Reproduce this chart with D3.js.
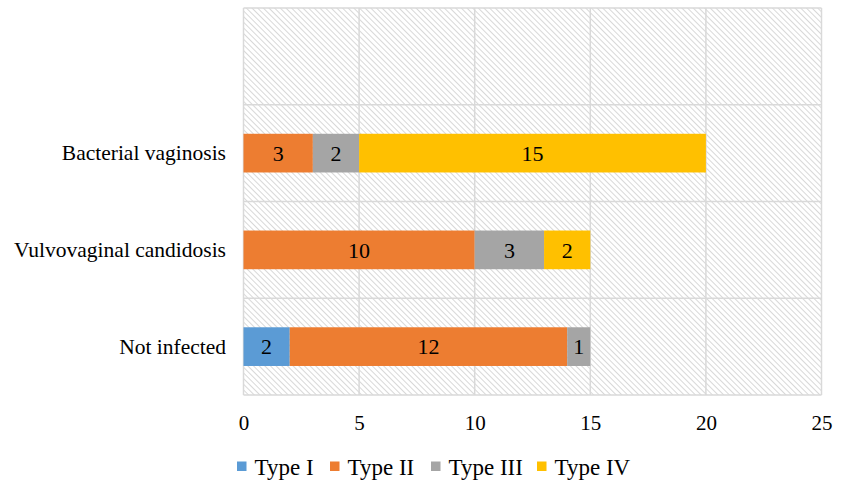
<!DOCTYPE html>
<html><head><meta charset="utf-8">
<script src="https://cdn.jsdelivr.net/npm/d3@7"></script>
<style>body{margin:0;background:#fff}svg{display:block}</style>
</head><body>
<svg id="c" width="843" height="482"></svg>
<script>
const categories = ["", "Bacterial vaginosis", "Vulvovaginal candidosis", "Not infected"];
const seriesNames = ["Type I", "Type II", "Type III", "Type IV"];
const seriesColors = ["#5B9BD5", "#ED7D31", "#A5A5A5", "#FFC000"];
const typeI   = [0, 0, 0, 2];
const typeII  = [0, 3, 10, 12];
const typeIII = [0, 2, 3, 1];
const typeIV  = [0, 15, 2, 0];
const xTicks = [0, 5, 10, 15, 20, 25];

const svg = d3.select("#c");
const font = "'Liberation Serif','Times New Roman',serif";
const M = {l: 243.5, t: 8, r: 821.5, b: 395};
const x = d3.scaleLinear().domain([0, 25]).range([M.l, M.r]);
const y = d3.scaleBand().domain(categories).range([M.t, M.b]).paddingInner(0).paddingOuter(0);

const defs = svg.append("defs");
const pat = defs.append("pattern").attr("id", "hatch").attr("patternUnits", "userSpaceOnUse")
  .attr("width", 4).attr("height", 4).attr("patternTransform", "rotate(-45)");
pat.append("rect").attr("width", 4).attr("height", 4).attr("fill", "#fff");
pat.append("line").attr("x1", 0).attr("y1", 0).attr("x2", 0).attr("y2", 4)
  .attr("stroke", "#c8c8c8").attr("stroke-width", 1.4);

svg.append("rect").attr("x", M.l).attr("y", M.t).attr("width", M.r - M.l).attr("height", M.b - M.t)
  .attr("fill", "url(#hatch)");

// grid
svg.append("g").selectAll("line").data(xTicks).join("line")
  .attr("x1", d => x(d)).attr("x2", d => x(d)).attr("y1", M.t).attr("y2", M.b)
  .attr("stroke", "#d9d9d9").attr("stroke-width", 1.5);
svg.append("g").selectAll("line").data(categories).join("line")
  .attr("x1", M.l).attr("x2", M.r).attr("y1", d => y(d)).attr("y2", d => y(d))
  .attr("stroke", "#d9d9d9").attr("stroke-width", 1.5);
svg.append("line").attr("x1", M.l).attr("x2", M.r).attr("y1", M.b).attr("y2", M.b)
  .attr("stroke", "#d9d9d9").attr("stroke-width", 1.5);

// bars
const rows = categories.map((c, i) => ({cat: c, vals: [typeI[i], typeII[i], typeIII[i], typeIV[i]]}));
const stackData = rows.map(r => { const o = {cat: r.cat}; seriesNames.forEach((s, j) => o[s] = r.vals[j]); return o; });
const stack = d3.stack().keys(seriesNames)(stackData);
const barH = y.bandwidth() / 2.5;
const gBars = svg.append("g");
stack.forEach((layer, j) => {
  const sel = gBars.selectAll(null).data(layer.filter(d => d[1] - d[0] > 0)).join("g");
  sel.append("rect")
    .attr("x", d => x(d[0])).attr("width", d => x(d[1]) - x(d[0]))
    .attr("y", d => y(d.data.cat) + (y.bandwidth() - barH) / 2).attr("height", barH)
    .attr("fill", seriesColors[j]);
  sel.append("text")
    .attr("x", d => (x(d[0]) + x(d[1])) / 2)
    .attr("y", d => y(d.data.cat) + y.bandwidth() / 2)
    .attr("dy", "0.35em").attr("text-anchor", "middle")
    .attr("font-family", font).attr("font-size", 22).attr("fill", "#000")
    .text(d => d[1] - d[0]);
});

// y axis labels
const yAxis = d3.axisLeft(y).tickSize(0).tickPadding(17.5);
const gy = svg.append("g").attr("transform", `translate(${M.l},0)`).call(yAxis);
gy.select(".domain").remove();
gy.selectAll("text").attr("font-family", font).attr("font-size", 21.5).attr("fill", "#000");

// x axis labels
const xAxis = d3.axisBottom(x).tickValues(xTicks).tickSize(0);
const gx = svg.append("g").attr("transform", `translate(0,${M.b})`).call(xAxis);
gx.select(".domain").remove();
gx.selectAll("text").attr("font-family", font).attr("font-size", 21).attr("fill", "#000")
  .attr("y", 35).attr("dy", 0);

// legend
const legX = [237, 330, 431, 537];
const lg = svg.append("g");
seriesNames.forEach((s, j) => {
  lg.append("rect").attr("x", legX[j]).attr("y", 461.5).attr("width", 9.5).attr("height", 9.5).attr("fill", seriesColors[j]);
  lg.append("text").attr("x", legX[j] + 17.5).attr("y", 475)
    .attr("font-family", font).attr("font-size", 23).attr("fill", "#000").text(s);
});
</script>
</body></html>
